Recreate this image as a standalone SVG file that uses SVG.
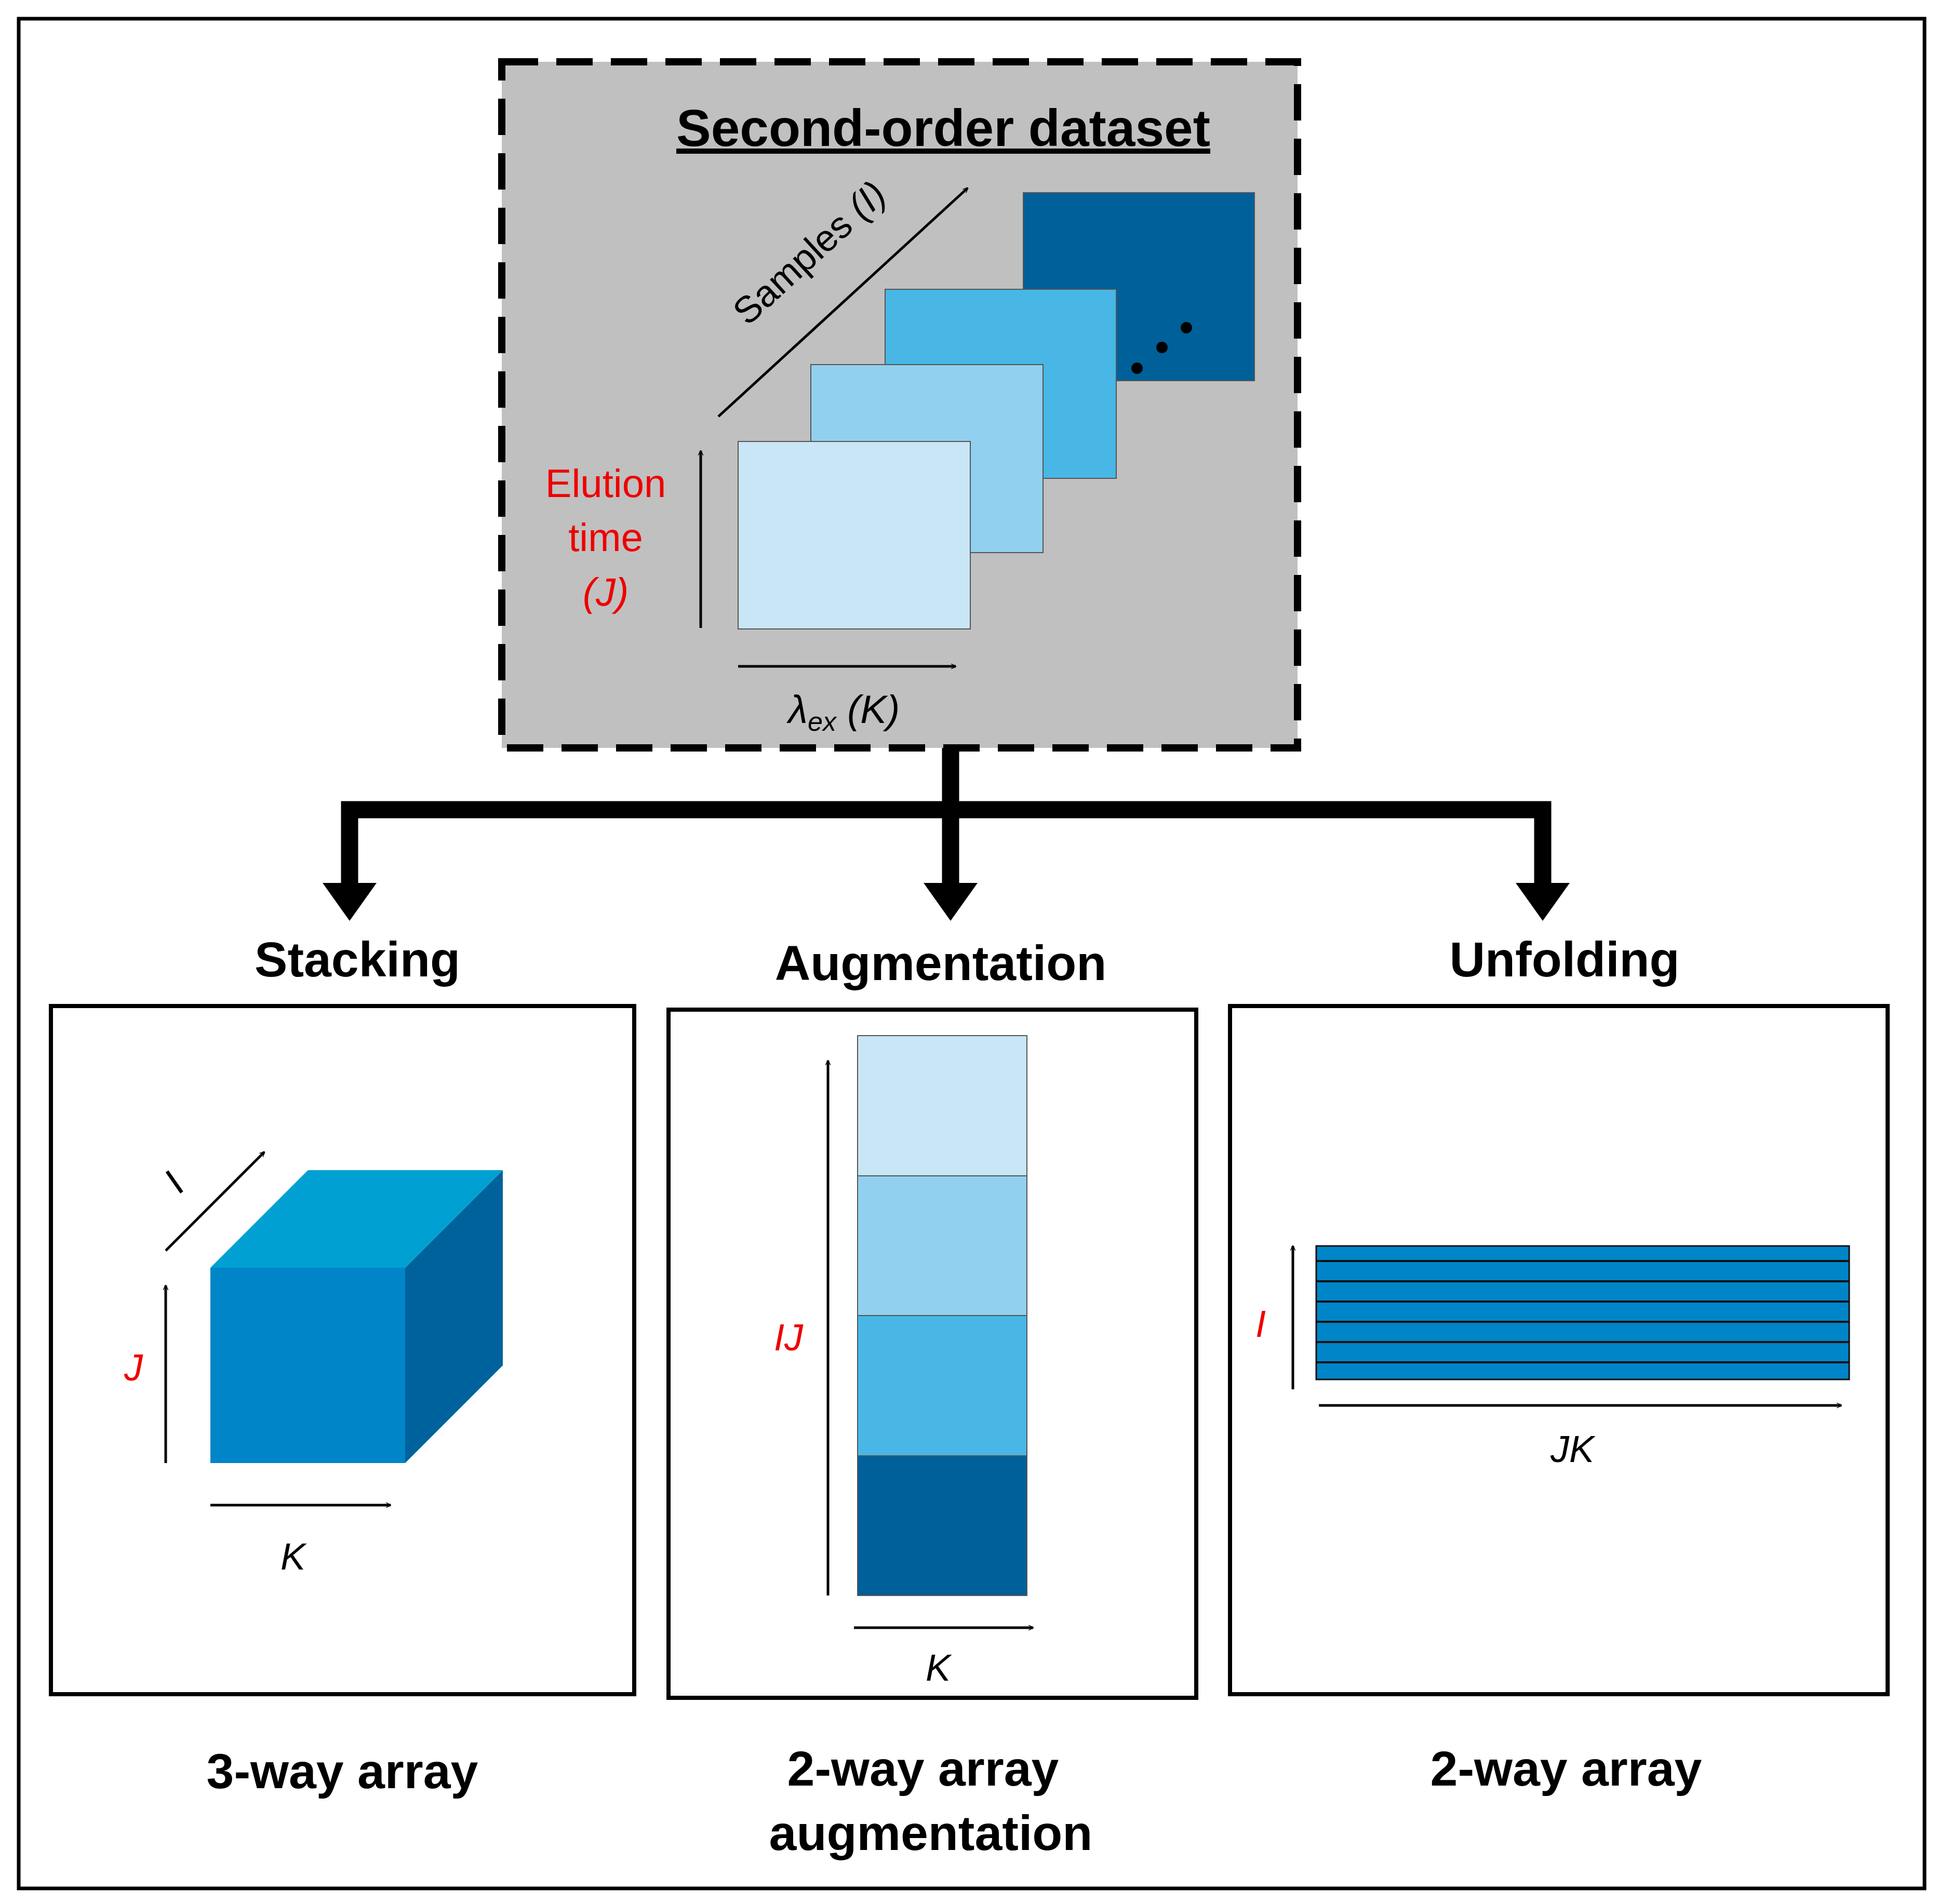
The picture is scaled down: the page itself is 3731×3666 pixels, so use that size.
<svg xmlns="http://www.w3.org/2000/svg" width="3731" height="3666" viewBox="0 0 3731 3666">
<style>
.t{font-family:"Liberation Sans",Arial,sans-serif;text-anchor:middle}
.b{font-weight:bold;font-size:95px}
.a{stroke:#000;stroke-width:5;fill:none;marker-end:url(#ah)}
.r{fill:#e00;font-style:italic;font-size:72px}
.i{font-style:italic;font-size:72px}
.sq{stroke:#555;stroke-width:2}
.box{fill:#fff;stroke:#000;stroke-width:8}
</style>
<defs>
<marker id="ah" markerWidth="10" markerHeight="10" refX="9" refY="5" orient="auto" markerUnits="userSpaceOnUse" viewBox="0 0 10 10">
<path d="M0,0 L10,5 L0,10" fill="none" stroke="#000" stroke-width="1.4"/>
</marker>
</defs>
<rect x="0" y="0" width="3731" height="3666" fill="#fff"/>
<rect x="36" y="36" width="3669" height="3600" fill="#fff" stroke="#000" stroke-width="7"/>
<g id="dataset">
<rect x="966" y="119" width="1532" height="1321" fill="#c0c0c0" stroke="#000" stroke-width="14" stroke-dasharray="70 35"/>
<text class="t" x="1816" y="281" font-size="100" font-weight="bold" text-decoration="underline">Second-order dataset</text>
<rect class="sq" x="1970" y="371" width="445" height="362" fill="#00609a"/>
<rect class="sq" x="1704" y="557" width="445" height="364" fill="#48b7e6"/>
<rect class="sq" x="1561" y="702" width="447" height="362" fill="#92d0f0"/>
<rect class="sq" x="1421" y="850" width="447" height="361" fill="#c8e6f6"/>
<circle cx="2189" cy="709" r="11"/><circle cx="2237" cy="669" r="11"/><circle cx="2284" cy="631" r="11"/>
<line class="a" x1="1383" y1="802" x2="1863" y2="362"/>
<text class="t" font-size="72" transform="translate(1575,505) rotate(-42.5)">Samples <tspan font-style="italic">(I)</tspan></text>
<text class="t" x="1166" y="957" font-size="76" fill="#e00">Elution</text>
<text class="t" x="1166" y="1061" font-size="76" fill="#e00">time</text>
<text class="t" x="1166" y="1166" font-size="76" fill="#e00" font-style="italic">(J)</text>
<line class="a" x1="1349" y1="1209" x2="1349" y2="868"/>
<line class="a" x1="1421" y1="1283" x2="1840" y2="1283"/>
<text class="t" x="1625" y="1392" font-size="76" font-style="italic">λ<tspan font-size="52" dy="15">ex</tspan><tspan dy="-15"> (K)</tspan></text>
</g>
<g id="connectors" fill="#000">
<path d="M1830,1440 V1559 M673,1700 V1559 H2970 V1700 M1830,1559 V1700" stroke="#000" stroke-width="33" fill="none"/>
<polygon points="621,1700 725,1700 673,1773"/>
<polygon points="1778,1700 1882,1700 1830,1773"/>
<polygon points="2918,1700 3022,1700 2970,1773"/>
</g>
<g id="stacking">
<text class="t b" x="688" y="1880">Stacking</text>
<rect class="box" x="98" y="1937" width="1123" height="1325"/>
<rect x="405" y="2441" width="375" height="376" fill="#0085c8"/>
<polygon points="405,2441 780,2441 968,2253 593,2253" fill="#00a0d2"/>
<polygon points="780,2441 968,2253 968,2629 780,2817" fill="#00629c"/>
<line class="a" x1="319" y1="2817" x2="319" y2="2475"/>
<text class="t r" x="257" y="2658">J</text>
<line class="a" x1="405" y1="2898" x2="752" y2="2898"/>
<text class="t i" x="564" y="3022">K</text>
<line class="a" x1="319" y1="2408" x2="509" y2="2218"/>
<text class="t" font-size="72" transform="translate(350,2296) rotate(-35)">I</text>
<text class="t b" x="659" y="3443">3-way array</text>
</g>
<g id="augmentation">
<text class="t b" x="1811" y="1887">Augmentation</text>
<rect class="box" x="1287" y="1944" width="1016" height="1325"/>
<rect class="sq" x="1651" y="1994" width="326" height="270" fill="#c8e6f6" stroke="#222"/>
<rect class="sq" x="1651" y="2264" width="326" height="269" fill="#92d0f0" stroke="#222"/>
<rect class="sq" x="1651" y="2533" width="326" height="270" fill="#48b7e6" stroke="#222"/>
<rect class="sq" x="1651" y="2803" width="326" height="269" fill="#00609a" stroke="#222"/>
<line class="a" x1="1594" y1="3072" x2="1594" y2="2042"/>
<text class="t r" x="1518" y="2600">IJ</text>
<line class="a" x1="1644" y1="3134" x2="1989" y2="3134"/>
<text class="t i" x="1806" y="3236">K</text>
<text class="t b" x="1777" y="3438">2-way array</text>
<text class="t b" x="1792" y="3562">augmentation</text>
</g>
<g id="unfolding">
<text class="t b" x="3012" y="1880">Unfolding</text>
<rect class="box" x="2368" y="1937" width="1266" height="1325"/>
<rect x="2534" y="2399" width="1026" height="257" fill="#0085c8" stroke="#111" stroke-width="3"/>
<path d="M2534,2428 H3560 M2534,2467 H3560 M2534,2506 H3560 M2534,2545 H3560 M2534,2584 H3560 M2534,2623 H3560" stroke="#111" stroke-width="4"/>
<line class="a" x1="2489" y1="2675" x2="2489" y2="2399"/>
<text class="t r" x="2427" y="2574">I</text>
<line class="a" x1="2539" y1="2706" x2="3545" y2="2706"/>
<text class="t i" x="3027" y="2815">JK</text>
<text class="t b" x="3015" y="3438">2-way array</text>
</g>
</svg>
